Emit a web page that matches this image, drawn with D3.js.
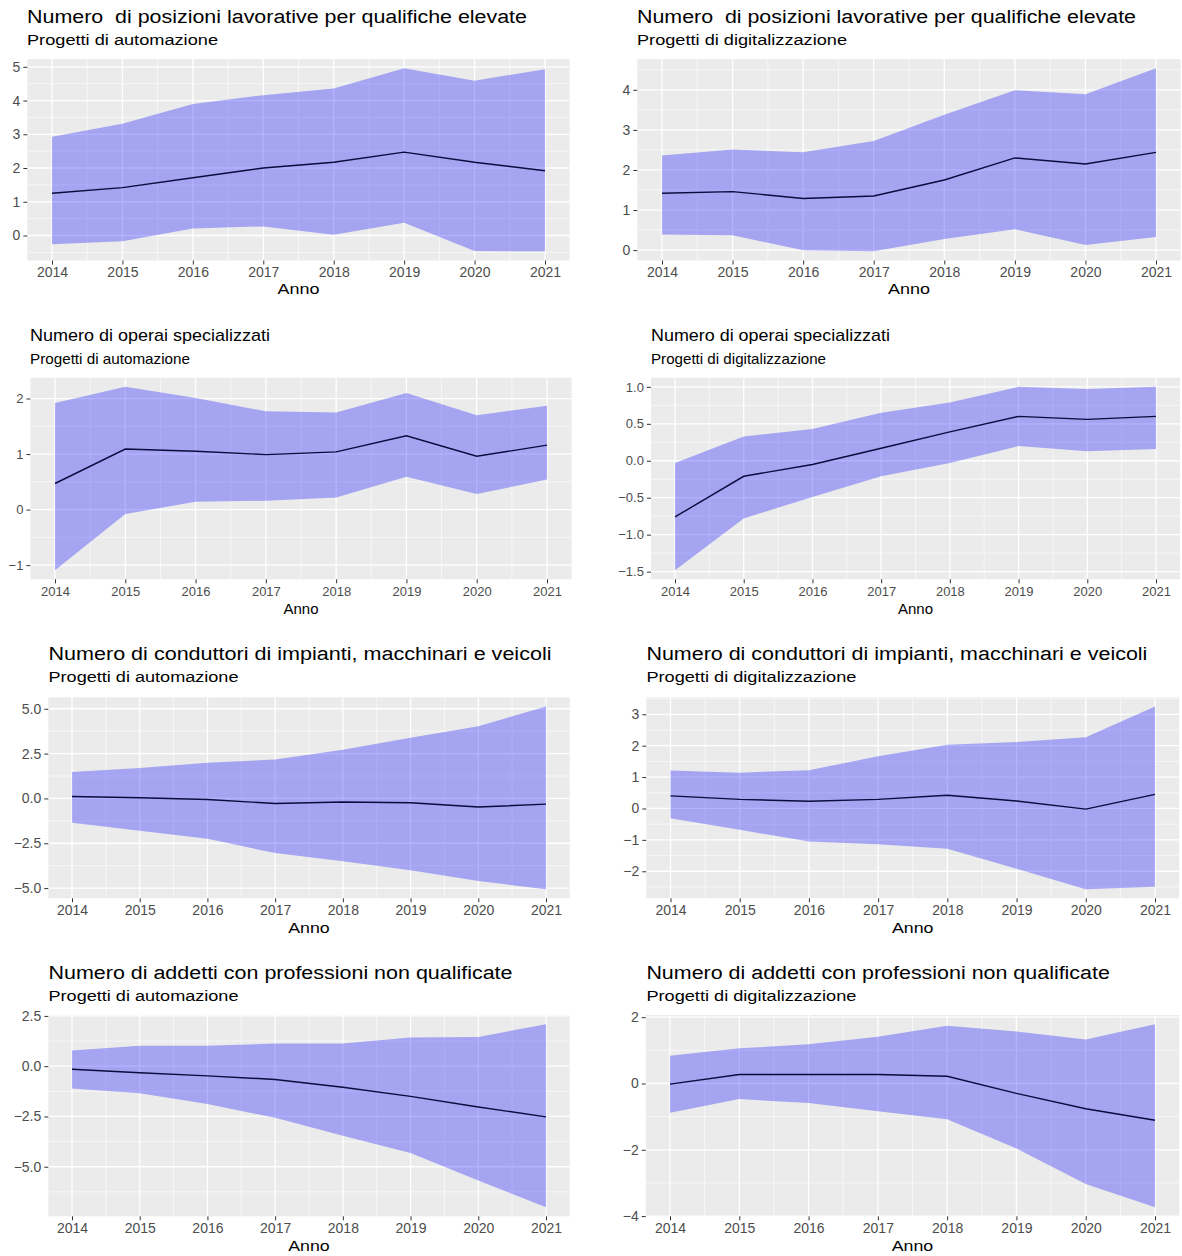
<!DOCTYPE html>
<html>
<head>
<meta charset="utf-8">
<script src="https://cdn.jsdelivr.net/npm/d3@7"></script>
<style>
  html, body { margin: 0; padding: 0; background: #ffffff; }
  svg { display: block; font-family: "Liberation Sans", Arial, Helvetica, sans-serif; }
  text { white-space: pre; }
</style>
</head>
<body>
<svg id="chart" width="1182" height="1256"></svg>
<script>
// ---- Data -------------------------------------------------------------
const years = [2014, 2015, 2016, 2017, 2018, 2019, 2020, 2021];

// Qualifiche elevate
const qeAutoMean = [1.25, 1.42, 1.71, 2.00, 2.17, 2.47, 2.17, 1.92];
const qeAutoLow  = [-0.26, -0.17, 0.21, 0.27, 0.02, 0.38, -0.46, -0.47];
const qeAutoHigh = [2.93, 3.31, 3.90, 4.16, 4.36, 4.96, 4.59, 4.93];

const qeDigiMean = [1.42, 1.46, 1.29, 1.35, 1.75, 2.30, 2.15, 2.44];
const qeDigiLow  = [0.39, 0.37, 0.00, -0.03, 0.28, 0.52, 0.13, 0.33];
const qeDigiHigh = [2.36, 2.51, 2.44, 2.72, 3.38, 3.99, 3.89, 4.54];

// Operai specializzati
const opAutoMean = [0.47, 1.09, 1.05, 0.99, 1.04, 1.33, 0.96, 1.16];
const opAutoLow  = [-1.09, -0.08, 0.14, 0.16, 0.22, 0.59, 0.28, 0.54];
const opAutoHigh = [1.92, 2.21, 2.01, 1.77, 1.75, 2.10, 1.70, 1.87];

const opDigiMean = [-0.76, -0.21, -0.05, 0.17, 0.39, 0.60, 0.56, 0.60];
const opDigiLow  = [-1.48, -0.78, -0.49, -0.21, -0.03, 0.20, 0.13, 0.16];
const opDigiHigh = [-0.03, 0.33, 0.43, 0.65, 0.79, 1.00, 0.97, 1.00];

// Conduttori di impianti, macchinari e veicoli
const coAutoMean = [0.11, 0.04, -0.06, -0.28, -0.20, -0.24, -0.48, -0.32];
const coAutoLow  = [-1.36, -1.80, -2.25, -3.05, -3.51, -4.01, -4.61, -5.06];
const coAutoHigh = [1.47, 1.69, 1.99, 2.17, 2.71, 3.38, 4.03, 5.13];

const coDigiMean = [0.40, 0.29, 0.23, 0.29, 0.42, 0.24, -0.02, 0.45];
const coDigiLow  = [-0.31, -0.68, -1.05, -1.14, -1.28, -1.92, -2.57, -2.49];
const coDigiHigh = [1.21, 1.14, 1.22, 1.66, 2.03, 2.12, 2.27, 3.25];

// Professioni non qualificate
const nqAutoMean = [-0.15, -0.33, -0.48, -0.66, -1.05, -1.50, -2.03, -2.52];
const nqAutoLow  = [-1.11, -1.35, -1.88, -2.57, -3.46, -4.32, -5.68, -7.01];
const nqAutoHigh = [0.78, 1.01, 1.01, 1.13, 1.13, 1.43, 1.45, 2.09];

const nqDigiMean = [-0.02, 0.27, 0.27, 0.27, 0.22, -0.30, -0.76, -1.11];
const nqDigiLow  = [-0.88, -0.47, -0.59, -0.84, -1.08, -1.96, -3.03, -3.73];
const nqDigiHigh = [0.84, 1.06, 1.18, 1.41, 1.74, 1.57, 1.33, 1.79];

// Titles and y tick labels
const titleQE = "Numero  di posizioni lavorative per qualifiche elevate";
const titleOP = "Numero di operai specializzati";
const titleCO = "Numero di conduttori di impianti, macchinari e veicoli";
const titleNQ = "Numero di addetti con professioni non qualificate";
const subAuto = "Progetti di automazione";
const subDigi = "Progetti di digitalizzazione";
const xTitle = "Anno";

const ticksQEAuto = [0, 1, 2, 3, 4, 5];
const ticksQEDigi = [0, 1, 2, 3, 4];
const ticksOPAuto = [-1, 0, 1, 2];
const ticksOPDigi = [-1.5, -1.0, -0.5, 0.0, 0.5, 1.0];
const ticksCOAuto = [-5.0, -2.5, 0.0, 2.5, 5.0];
const ticksCODigi = [-2, -1, 0, 1, 2, 3];
const ticksNQAuto = [-5.0, -2.5, 0.0, 2.5];
const ticksNQDigi = [-4, -2, 0, 2];

// ---- Layout -----------------------------------------------------------
const rows = [
  { top: 59.0,  bottom: 260.5,  titleY: 22.7,  subY: 45.0,   annoY: 294.0,  titleSize: 18, subSize: 15.5, tickSize: 14,   annoW: 42 },
  { top: 377.7, bottom: 579.3,  titleY: 340.7, subY: 364.0,  annoY: 613.5,  titleSize: 17, subSize: 14.5, tickSize: 13,   annoW: 35 },
  { top: 697.3, bottom: 898.3,  titleY: 660.0, subY: 681.7,  annoY: 932.5,  titleSize: 18, subSize: 15.5, tickSize: 14,   annoW: 41.5 },
  { top: 1015.0, bottom: 1216.3, titleY: 978.7, subY: 1000.7, annoY: 1251.0, titleSize: 18, subSize: 15.5, tickSize: 14,   annoW: 41.5 }
];

const panels = [
  { row: 0, x2014: 52,    x2021: 545,  titleX: 27,    titleW: 500,   subW: 191,   title: titleQE, sub: subAuto, mean: qeAutoMean, low: qeAutoLow, high: qeAutoHigh, ticks: ticksQEAuto, fmt: "d" },
  { row: 0, x2014: 662,   x2021: 1156, titleX: 637,   titleW: 499,   subW: 210,   title: titleQE, sub: subDigi, mean: qeDigiMean, low: qeDigiLow, high: qeDigiHigh, ticks: ticksQEDigi, fmt: "d" },
  { row: 1, x2014: 55,    x2021: 547,  titleX: 30,    titleW: 240,   subW: 160,   title: titleOP, sub: subAuto, mean: opAutoMean, low: opAutoLow, high: opAutoHigh, ticks: ticksOPAuto, fmt: "d" },
  { row: 1, x2014: 675,   x2021: 1156, titleX: 651,   titleW: 239,   subW: 175,   title: titleOP, sub: subDigi, mean: opDigiMean, low: opDigiLow, high: opDigiHigh, ticks: ticksOPDigi, fmt: ".1f" },
  { row: 2, x2014: 72,    x2021: 546,  titleX: 48.5,  titleW: 503,   subW: 190,   title: titleCO, sub: subAuto, mean: coAutoMean, low: coAutoLow, high: coAutoHigh, ticks: ticksCOAuto, fmt: ".1f" },
  { row: 2, x2014: 670.5, x2021: 1155, titleX: 646.4, titleW: 501,   subW: 210,   title: titleCO, sub: subDigi, mean: coDigiMean, low: coDigiLow, high: coDigiHigh, ticks: ticksCODigi, fmt: "d" },
  { row: 3, x2014: 72,    x2021: 546,  titleX: 48.5,  titleW: 464,   subW: 190,   title: titleNQ, sub: subAuto, mean: nqAutoMean, low: nqAutoLow, high: nqAutoHigh, ticks: ticksNQAuto, fmt: ".1f" },
  { row: 3, x2014: 670,   x2021: 1155, titleX: 646.4, titleW: 463.5, subW: 210,   title: titleNQ, sub: subDigi, mean: nqDigiMean, low: nqDigiLow, high: nqDigiHigh, ticks: ticksNQDigi, fmt: "d" }
];

// ---- Drawing ----------------------------------------------------------
const svg = d3.select("#chart");

// ggplot-style 5% expansion of a continuous range
function expand(ext) {
  const pad = (ext[1] - ext[0]) * 0.05;
  return [ext[0] - pad, ext[1] + pad];
}

// minor breaks half-way between majors, extended one step beyond the ends
function minorBreaks(majors, domain) {
  const b = majors.slice().sort((a, c) => a - c);
  const step = b[1] - b[0];
  const ext = [b[0] - step, ...b, b[b.length - 1] + step];
  const out = [];
  for (let i = 0; i < ext.length - 1; i++) out.push((ext[i] + ext[i + 1]) / 2);
  return out.filter(v => v > domain[0] && v < domain[1]);
}

panels.forEach(p => {
  const r = rows[p.row];
  const g = svg.append("g");

  // x scale placed by the positions of the first and last year
  const xDomain = expand(d3.extent(years));
  const step = (p.x2021 - p.x2014) / (years[years.length - 1] - years[0]);
  const left = p.x2014 - (years[0] - xDomain[0]) * step;
  const right = p.x2021 + (xDomain[1] - years[years.length - 1]) * step;
  const x = d3.scaleLinear().domain(xDomain).range([left, right]);

  const yDomain = expand([d3.min(p.low), d3.max(p.high)]);
  const y = d3.scaleLinear().domain(yDomain).range([r.bottom, r.top]);

  // panel background
  g.append("rect")
    .attr("x", left).attr("y", r.top)
    .attr("width", right - left).attr("height", r.bottom - r.top)
    .attr("fill", "#EBEBEB");

  // grid
  const xMinor = minorBreaks(years, xDomain);
  const yMinor = minorBreaks(p.ticks, yDomain);
  g.selectAll(".ymin").data(yMinor).join("line")
    .attr("x1", left).attr("x2", right)
    .attr("y1", d => y(d)).attr("y2", d => y(d))
    .attr("stroke", "#fff").attr("stroke-width", 0.6);
  g.selectAll(".xmin").data(xMinor).join("line")
    .attr("y1", r.top).attr("y2", r.bottom)
    .attr("x1", d => x(d)).attr("x2", d => x(d))
    .attr("stroke", "#fff").attr("stroke-width", 0.6);
  g.selectAll(".ymaj").data(p.ticks).join("line")
    .attr("x1", left).attr("x2", right)
    .attr("y1", d => y(d)).attr("y2", d => y(d))
    .attr("stroke", "#fff").attr("stroke-width", 1.3);
  g.selectAll(".xmaj").data(years).join("line")
    .attr("y1", r.top).attr("y2", r.bottom)
    .attr("x1", d => x(d)).attr("x2", d => x(d))
    .attr("stroke", "#fff").attr("stroke-width", 1.3);

  // confidence ribbon
  const rows2 = years.map((yr, i) => ({ yr, lo: p.low[i], hi: p.high[i], m: p.mean[i] }));
  g.append("path")
    .datum(rows2)
    .attr("d", d3.area().x(d => x(d.yr)).y0(d => y(d.lo)).y1(d => y(d.hi)))
    .attr("fill", "blue").attr("fill-opacity", 0.3);

  // mean line
  g.append("path")
    .datum(rows2)
    .attr("d", d3.line().x(d => x(d.yr)).y(d => y(d.m)))
    .attr("fill", "none").attr("stroke", "#0b0b3e").attr("stroke-width", 1.4);

  // axes
  const xAxis = g.append("g")
    .attr("transform", `translate(0,${r.bottom})`)
    .call(d3.axisBottom(x).tickValues(years).tickFormat(d3.format("d")).tickSize(4).tickPadding(3));
  const yAxis = g.append("g")
    .attr("transform", `translate(${left},0)`)
    .call(d3.axisLeft(y).tickValues(p.ticks).tickFormat(d3.format(p.fmt)).tickSize(4).tickPadding(3));
  [xAxis, yAxis].forEach(a => {
    a.select(".domain").remove();
    a.selectAll(".tick line").attr("stroke", "#333333").attr("stroke-width", 1);
    a.selectAll(".tick text")
      .attr("fill", "#4D4D4D")
      .style("font-size", r.tickSize + "px")
      .style("font-family", '"Liberation Sans", Arial, sans-serif');
  });

  // titles
  g.append("text")
    .attr("x", p.titleX).attr("y", r.titleY)
    .attr("textLength", p.titleW).attr("lengthAdjust", "spacingAndGlyphs")
    .style("font-size", r.titleSize + "px").attr("fill", "#000")
    .text(p.title);
  g.append("text")
    .attr("x", p.titleX).attr("y", r.subY)
    .attr("textLength", p.subW).attr("lengthAdjust", "spacingAndGlyphs")
    .style("font-size", r.subSize + "px").attr("fill", "#000")
    .text(p.sub);

  // axis title
  g.append("text")
    .attr("x", (left + right) / 2 - r.annoW / 2).attr("y", r.annoY)
    .attr("textLength", r.annoW).attr("lengthAdjust", "spacingAndGlyphs")
    .style("font-size", r.subSize + "px").attr("fill", "#000")
    .text(xTitle);
});
</script>
</body>
</html>
